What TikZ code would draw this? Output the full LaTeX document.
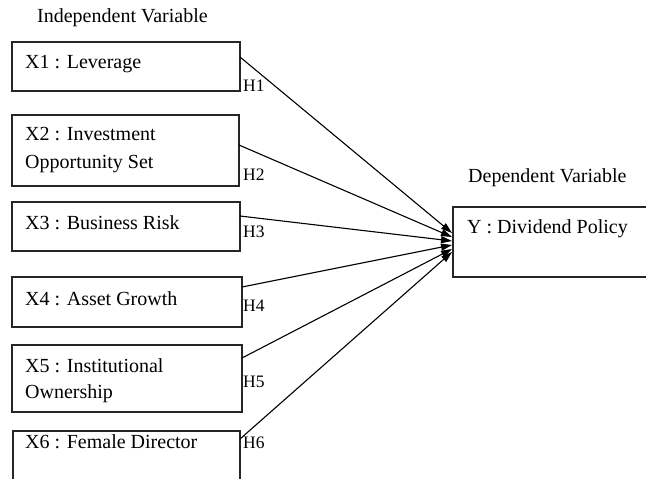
\documentclass[tikz,border=0pt]{standalone}
\usepackage{fontspec}
\setmainfont{Liberation Serif}
\usetikzlibrary{arrows.meta}
\begin{document}
\begin{tikzpicture}[x=1pt,y=-1pt,
  vbox/.style={draw=black!85,line width=1.1pt,inner sep=0pt,outer sep=0pt,anchor=north west},
  txt/.style={anchor=base west,inner sep=0pt,font=\fontsize{20}{24}\selectfont},
  hlab/.style={anchor=base west,inner sep=0pt,font=\fontsize{17.5}{20}\selectfont},
  link/.style={line width=1.1pt,-{Triangle[length=11pt,width=7pt]}}]
\useasboundingbox (0,0) rectangle (646,479);
\clip (0,0) rectangle (646,479);
% boxes
\node[vbox,minimum width=228pt,minimum height=49pt] (X1) at (12,42) {};
\node[vbox,minimum width=227pt,minimum height=71pt] (X2) at (12,115) {};
\node[vbox,minimum width=228pt,minimum height=49pt] (X3) at (12,202) {};
\node[vbox,minimum width=230pt,minimum height=50pt] (X4) at (12,277) {};
\node[vbox,minimum width=230pt,minimum height=67pt] (X5) at (12,345) {};
\node[vbox,minimum width=227pt,minimum height=70pt] (X6) at (13,431) {};
\node[vbox,minimum width=220pt,minimum height=70pt] (Y) at (453,207) {};
% texts
\node[txt] (t0) at (37,22) {Independent Variable};
\node[txt] (tD) at (468,182) {Dependent Variable};
\node[txt] (t1) at (25,68) {X1 : Leverage};
\node[txt] (t2a) at (25,140) {X2 : Investment};
\node[txt] (t2b) at (25,168) {Opportunity Set};
\node[txt] (t3) at (25,229) {X3 : Business Risk};
\node[txt] (t4) at (25,305) {X4 : Asset Growth};
\node[txt] (t5a) at (25,372) {X5 : Institutional};
\node[txt] (t5b) at (25,398) {Ownership};
\node[txt] (t6) at (25,448) {X6 : Female Director};
\node[txt] (tY) at (467,233) {Y : Dividend Policy};
% hypothesis labels
\node[hlab] (h1) at (243,91) {H1};
\node[hlab] (h2) at (243,180) {H2};
\node[hlab] (h3) at (243,237) {H3};
\node[hlab] (h4) at (243,311) {H4};
\node[hlab] (h5) at (243,387) {H5};
\node[hlab] (h6) at (243,448) {H6};
% connector ends
\coordinate (s1) at (240,57);
\coordinate (s2) at (239,145);
\coordinate (s3) at (240,216);
\coordinate (s4) at (242,287);
\coordinate (s5) at (242,358);
\coordinate (s6) at (240,439);
\coordinate (e1) at (452,233);
\coordinate (e2) at (452,237);
\coordinate (e3) at (452,241);
\coordinate (e4) at (452,245);
\coordinate (e5) at (452,249);
\coordinate (e6) at (452,252);
\foreach \i in {1,...,6} {\draw[link] (s\i) -- (e\i);}
\end{tikzpicture}
\end{document}
